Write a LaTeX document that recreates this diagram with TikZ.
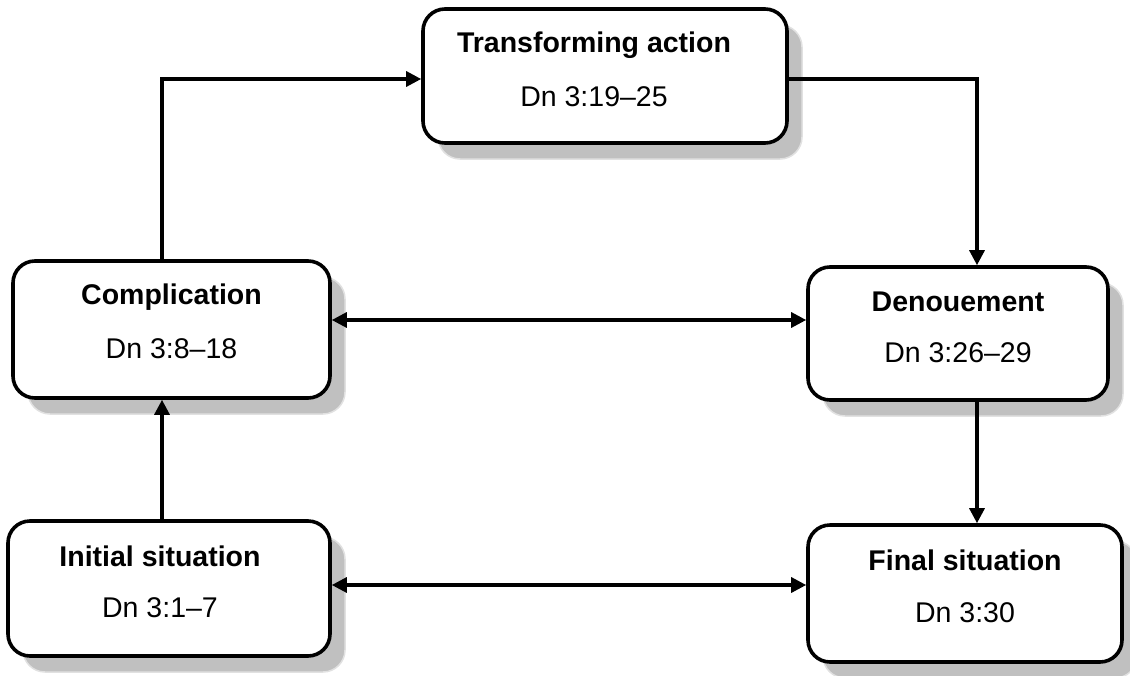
\documentclass[tikz,border=0pt]{standalone}
\usepackage{fontspec}
\setmainfont{Liberation Sans}
\usetikzlibrary{calc}
\usetikzlibrary{arrows.meta}
\usetikzlibrary{shadows}

\definecolor{shadowgray}{RGB}{192,192,192}
\definecolor{shadowedge}{RGB}{225,225,225}

\begin{document}
\begin{tikzpicture}[x=1pt,y=-1pt,
  box/.style={draw=black, line width=3.6pt, fill=white, rounded corners=22pt,
    drop shadow={shadow xshift=15pt, shadow yshift=-16pt, fill=shadowgray,
      draw=shadowedge, line width=1.5pt, opacity=1}},
  title/.style={font=\fontsize{28.5}{34}\selectfont\bfseries},
  ref/.style={font=\fontsize{28.5}{34}\selectfont},
  conn/.style={black, line width=3.2pt},
  tip/.style={-{Triangle[length=15pt,width=15pt]}},
  tips/.style={{Triangle[length=15pt,width=15pt]}-{Triangle[length=15pt,width=15pt]}}]

\useasboundingbox (0,0) rectangle (1130,675);

\node[box, minimum width=364pt, minimum height=134pt] (trans) at (605,76) {};
\node[box, minimum width=317pt, minimum height=137pt] (compl) at (171.5,329.5) {};
\node[box, minimum width=300pt, minimum height=133pt] (denou) at (958,333.5) {};
\node[box, minimum width=322pt, minimum height=135pt] (init) at (169,588.5) {};
\node[box, minimum width=314pt, minimum height=137pt] (final) at (965,593.5) {};

\node at (trans) [title, xshift=-11, yshift=31] (transT) {Transforming action};
\node at (trans) [ref, xshift=-11, yshift=-21] (transR) {Dn 3:19--25};
\node at (compl) [title, yshift=32] (complT) {Complication};
\node at (compl) [ref, yshift=-19] (complR) {Dn 3:8--18};
\node at (denou) [title, yshift=32] (denouT) {Denouement};
\node at (denou) [ref, yshift=-19] (denouR) {Dn 3:26--29};
\node at (init) [title, xshift=-9, yshift=32] (initT) {Initial situation};
\node at (init) [ref, xshift=-9, yshift=-19] (initR) {Dn 3:1--7};
\node at (final) [title, yshift=33] (finalT) {Final situation};
\node at (final) [ref, yshift=-19] (finalR) {Dn 3:30};

\coordinate (left) at (162,79);
\coordinate (right) at (977,79);
\coordinate (mid) at (0,320);
\coordinate (low) at (0,585);

\draw[conn,tip] (compl.north -| left) -- (left) -- (left -| trans.west);
\draw[conn,tip] (right -| trans.east) -- (right) -- (denou.north -| right);
\draw[conn,tips] (compl.east |- mid) -- (denou.west |- mid);
\draw[conn,tip] (init.north -| left) -- (compl.south -| left);
\draw[conn,tip] (denou.south -| right) -- (final.north -| right);
\draw[conn,tips] (init.east |- low) -- (final.west |- low);

\end{tikzpicture}
\end{document}
